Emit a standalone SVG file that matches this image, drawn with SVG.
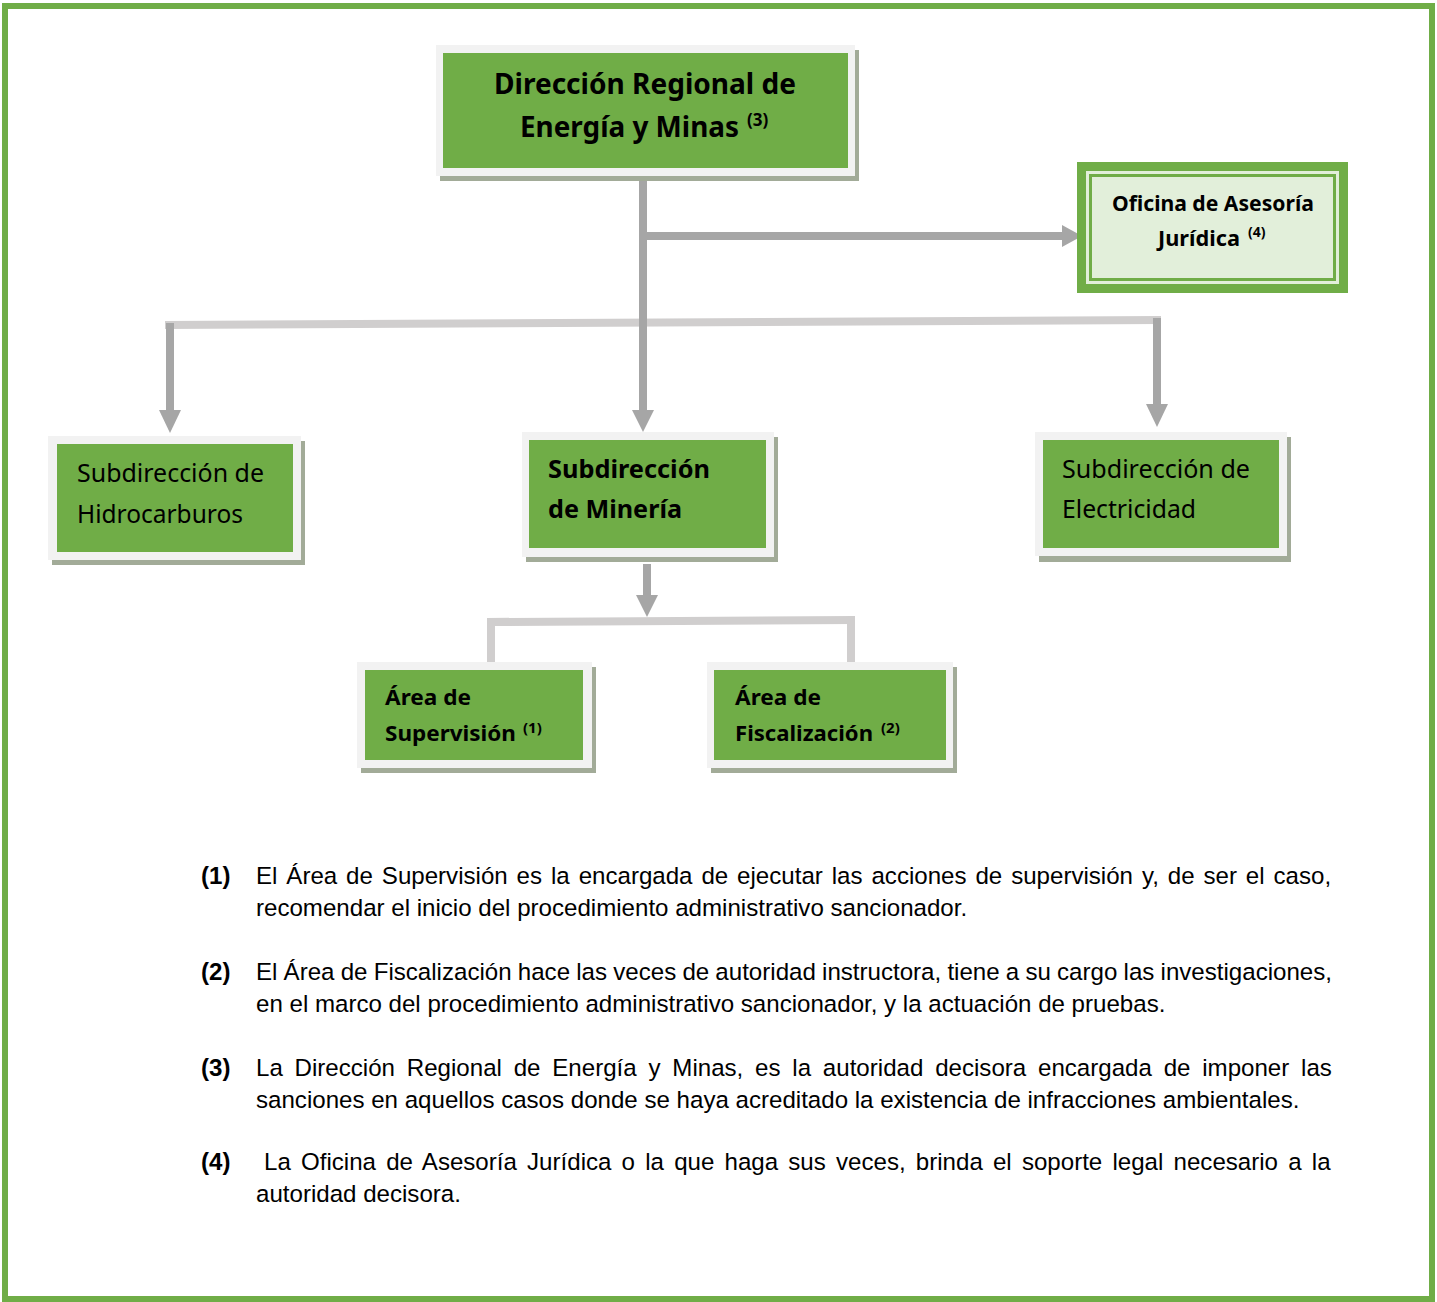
<svg xmlns="http://www.w3.org/2000/svg" width="1437" height="1302" viewBox="0 0 1437 1302">
<defs>
<style>
.frame{fill:#f2f2f2}
.shadow{fill:#a2ab98}
.box{fill:#70ad47}
.nb{font-family:"Noto Sans","Open Sans",sans-serif;font-weight:bold;fill:#000}
.nr{font-family:"Noto Sans","Open Sans",sans-serif;font-weight:normal;fill:#000}
.sup{font-family:"Noto Sans","Open Sans",sans-serif;font-weight:bold;fill:#000}
.dark{stroke:#a6a6a6;stroke-width:8;fill:none}
.light{stroke:#d0cece;stroke-width:8;fill:none}
.head{fill:#a6a6a6}
.fn{font-family:"Liberation Sans",Arial,sans-serif;font-size:24.1px;fill:#000}
.fl{font-family:"Liberation Sans",Arial,sans-serif;font-size:24.1px;font-weight:bold;fill:#000}
</style>
</defs>
<rect x="0" y="0" width="1437" height="1302" fill="#fff"/>
<rect x="5" y="6" width="1427" height="1293" fill="none" stroke="#70ad47" stroke-width="6"/>

<g id="connectors">
<path class="light" d="M165 325 L1161 320"/>
<path class="light" d="M487 622 L855 620"/>
<path class="light" d="M491 621 V662 M851 620 V662"/>
<path class="dark" d="M643 176 V412"/>
<polygon class="head" points="632,410 654,410 643,432"/>
<path class="dark" d="M643 236 H1064"/>
<polygon class="head" points="1062,225 1062,247 1082,236"/>
<path class="dark" d="M170 323 V412"/>
<polygon class="head" points="159,410 181,410 170,433"/>
<path class="dark" d="M1157 318 V406"/>
<polygon class="head" points="1146,404 1168,404 1157,427"/>
<path class="dark" d="M647 564 V597"/>
<polygon class="head" points="636,595 658,595 647,617"/>
</g>

<g id="node-direccion">
<rect class="shadow" x="440" y="50" width="419" height="131"/>
<rect class="frame" x="436" y="45" width="419" height="131"/>
<rect class="box" x="443" y="53" width="405" height="115"/>
<text class="nb" font-size="28" x="494" y="94" textLength="302" lengthAdjust="spacingAndGlyphs">Dirección Regional de</text>
<text class="nb" font-size="28" x="520" y="137" textLength="219" lengthAdjust="spacingAndGlyphs">Energía y Minas</text>
<text class="sup" font-size="17" x="747" y="126">(3)</text>
</g>

<g id="node-oficina">
<rect x="1077" y="162" width="271" height="131" fill="#70ad47"/>
<rect x="1086" y="171" width="253" height="113" fill="#e2efda"/>
<rect x="1090.5" y="175.5" width="244" height="104" fill="none" stroke="#70ad47" stroke-width="3"/>
<text class="nb" font-size="21" x="1112" y="211" textLength="202" lengthAdjust="spacingAndGlyphs">Oficina de Asesoría</text>
<text class="nb" font-size="21" x="1158" y="246" textLength="82" lengthAdjust="spacingAndGlyphs">Jurídica</text>
<text class="sup" font-size="14" x="1248" y="237">(4)</text>
</g>

<g id="node-hidrocarburos">
<rect class="shadow" x="52" y="441" width="253" height="124"/>
<rect class="frame" x="48" y="436" width="253" height="124"/>
<rect class="box" x="57" y="444" width="236" height="108"/>
<text class="nr" font-size="25" x="77" y="482" textLength="187" lengthAdjust="spacingAndGlyphs">Subdirección de</text>
<text class="nr" font-size="25" x="77" y="523" textLength="166" lengthAdjust="spacingAndGlyphs">Hidrocarburos</text>
</g>

<g id="node-mineria">
<rect class="shadow" x="526" y="437" width="252" height="125"/>
<rect class="frame" x="522" y="432" width="252" height="125"/>
<rect class="box" x="529" y="440" width="237" height="108"/>
<text class="nb" font-size="25" x="548" y="478" textLength="162" lengthAdjust="spacingAndGlyphs">Subdirección</text>
<text class="nb" font-size="25" x="548" y="518" textLength="134" lengthAdjust="spacingAndGlyphs">de Minería</text>
</g>

<g id="node-electricidad">
<rect class="shadow" x="1039" y="437" width="252" height="125"/>
<rect class="frame" x="1035" y="432" width="252" height="124"/>
<rect class="box" x="1043" y="440" width="236" height="108"/>
<text class="nr" font-size="25" x="1062" y="478" textLength="188" lengthAdjust="spacingAndGlyphs">Subdirección de</text>
<text class="nr" font-size="25" x="1062" y="518" textLength="134" lengthAdjust="spacingAndGlyphs">Electricidad</text>
</g>

<g id="node-supervision">
<rect class="shadow" x="361" y="667" width="235" height="106"/>
<rect class="frame" x="357" y="662" width="235" height="106"/>
<rect class="box" x="365" y="670" width="218" height="90"/>
<text class="nb" font-size="22" x="385" y="705" textLength="86" lengthAdjust="spacingAndGlyphs">Área de</text>
<text class="nb" font-size="22" x="385" y="741" textLength="131" lengthAdjust="spacingAndGlyphs">Supervisión</text>
<text class="sup" font-size="15" x="523" y="733">(1)</text>
</g>

<g id="node-fiscalizacion">
<rect class="shadow" x="711" y="667" width="246" height="106"/>
<rect class="frame" x="707" y="662" width="246" height="106"/>
<rect class="box" x="714" y="670" width="232" height="90"/>
<text class="nb" font-size="22" x="735" y="705" textLength="86" lengthAdjust="spacingAndGlyphs">Área de</text>
<text class="nb" font-size="22" x="735" y="741" textLength="138" lengthAdjust="spacingAndGlyphs">Fiscalización</text>
<text class="sup" font-size="15" x="881" y="733">(2)</text>
</g>

<g id="footnotes">
<text class="fl" x="201" y="884">(1)</text>
<text class="fn" x="256" y="884" word-spacing="2.21">El Área de Supervisión es la encargada de ejecutar las acciones de supervisión y, de ser el caso,</text>
<text class="fn" x="256" y="916">recomendar el inicio del procedimiento administrativo sancionador.</text>
<text class="fl" x="201" y="980">(2)</text>
<text class="fn" x="256" y="980" word-spacing="-0.5">El Área de Fiscalización hace las veces de autoridad instructora, tiene a su cargo las investigaciones,</text>
<text class="fn" x="256" y="1012">en el marco del procedimiento administrativo sancionador, y la actuación de pruebas.</text>
<text class="fl" x="201" y="1076">(3)</text>
<text class="fn" x="256" y="1076" word-spacing="5.1">La Dirección Regional de Energía y Minas, es la autoridad decisora encargada de imponer las</text>
<text class="fn" x="256" y="1108">sanciones en aquellos casos donde se haya acreditado la existencia de infracciones ambientales.</text>
<text class="fl" x="201" y="1170">(4)</text>
<text class="fn" x="264" y="1170" word-spacing="3.49">La Oficina de Asesoría Jurídica o la que haga sus veces, brinda el soporte legal necesario a la</text>
<text class="fn" x="256" y="1202">autoridad decisora.</text>
</g>
</svg>
